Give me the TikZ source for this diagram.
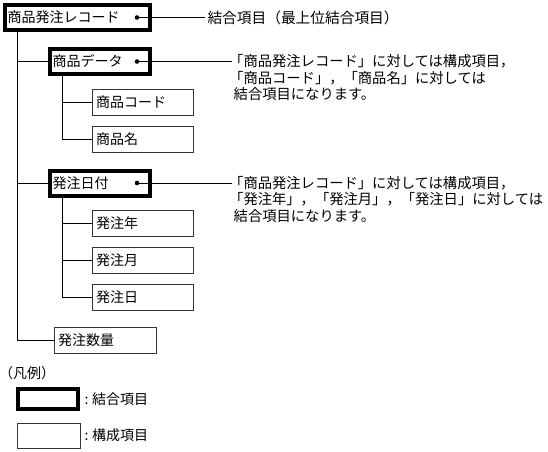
\documentclass[tikz,border=0pt]{standalone}
\usepackage{fontspec}
\setmainfont{Noto Sans CJK JP}
\usetikzlibrary{calc}
\begin{document}
\begin{tikzpicture}[x=1pt,y=-1pt,
  labfont/.style={font=\fontsize{14pt}{16pt}\selectfont},
  notefont/.style={font=\fontsize{14.3pt}{16.5pt}\selectfont},
  joinbox/.style={labfont, draw=black, line width=4pt, inner xsep=2.5pt, inner ysep=0pt, minimum height=25pt, align=left},
  partbox/.style={labfont, draw=black!80, line width=1pt, inner xsep=4pt, inner ysep=0pt, minimum height=26pt, align=left},
  conn/.style={draw=black, line width=1pt},
  dotnode/.style={circle, fill=black, inner sep=0pt, minimum size=4.6pt},
  notetxt/.style={notefont, inner sep=0pt, anchor=west},
  legtxt/.style={labfont, inner sep=0pt, anchor=west}]
\useasboundingbox (0,0) rectangle (548,451);

% top record
\node[joinbox, text width=140pt] (rec) at (77.5,17.5) {商品発注レコード};
\node[dotnode] (rdot) at (137,17.5) {};
\node[notetxt, font=\fontsize{14.7pt}{16.5pt}\selectfont] (rnote) at (207.3,17.5) {結合項目（最上位結合項目）};
\draw[conn] (rdot.center) -- ([xshift=-2pt]rnote.west);

% 商品データ
\node[joinbox, text width=95pt] (item) at (100,61.5) {商品データ};
\node[dotnode] (idot) at (137,61.5) {};
\node[notetxt] (inA) at (229,61.5) {「商品発注レコード」に対しては構成項目，};
\node[notetxt] (inB) at (229,78) {「商品コード」，「商品名」に対しては};
\node[notetxt] (inC) at (233.5,94.5) {結合項目になります。};
\draw[conn] (idot.center) -- ([xshift=3pt]inA.west);

\node[partbox, text width=93pt] (code) at (142.5,102.5) {商品コード};
\node[partbox, text width=93pt] (name) at (142.5,139.5) {商品名};

% 発注日付
\node[joinbox, text width=95pt] (date) at (100,183) {発注日付};
\node[dotnode] (ddot) at (137,183) {};
\node[notetxt] (dnA) at (229,183) {「商品発注レコード」に対しては構成項目，};
\node[notetxt] (dnB) at (229,199.5) {「発注年」，「発注月」，「発注日」に対しては};
\node[notetxt] (dnC) at (233.5,216) {結合項目になります。};
\draw[conn] (ddot.center) -- ([xshift=3pt]dnA.west);

\node[partbox, text width=93pt] (year) at (142.5,223.5) {発注年};
\node[partbox, text width=93pt] (month) at (142.5,260.5) {発注月};
\node[partbox, text width=93pt] (day) at (142.5,297.5) {発注日};

\node[partbox, text width=94pt] (qty) at (105,340) {発注数量};

% trunks
\coordinate (T) at (17,0);
\coordinate (S) at (62,0);
\draw[conn] (T |- rec.south) |- (qty.west);
\draw[conn] (T |- item.west) -- (item.west);
\draw[conn] (T |- date.west) -- (date.west);
\draw[conn] (S |- item.south) |- (name.west);
\draw[conn] (S |- code.west) -- (code.west);
\draw[conn] (S |- date.south) |- (day.west);
\draw[conn] (S |- year.west) -- (year.west);
\draw[conn] (S |- month.west) -- (month.west);

% legend
\node[legtxt] (leg) at (-1,373) {（凡例）};
\node[draw=black, line width=4pt, minimum width=60pt, minimum height=20pt, inner sep=0pt] (lj) at (48,399) {};
\node[legtxt] (ljt) at (84.5,399) {:\hspace{3.5pt}結合項目};
\node[draw=black!80, line width=1pt, minimum width=63pt, minimum height=25pt, inner sep=0pt] (lp) at (48.5,435.5) {};
\node[legtxt] (lpt) at (84.5,435.5) {:\hspace{3.5pt}構成項目};
\end{tikzpicture}
\end{document}
